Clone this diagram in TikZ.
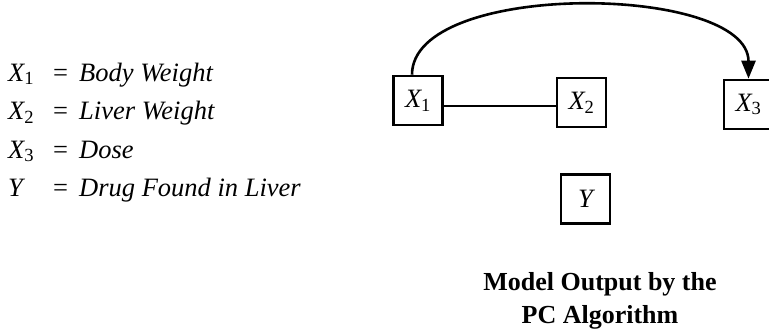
\documentclass[tikz,border=0pt]{standalone}
\usepackage{fontspec}
\setmainfont{Liberation Serif}
\usetikzlibrary{arrows.meta,positioning,calc}
\newcommand{\vname}[2]{#1\textsubscript{\upshape #2}}
\tikzset{
  var/.style={draw,line width=2.6pt,minimum size=49pt,inner sep=0pt,
              font=\fontsize{26.5}{32}\selectfont\itshape},
  lgd/.style={anchor=base west,inner sep=0pt,
              font=\fontsize{26.5}{32}\selectfont\itshape},
  lnk/.style={line width=2.6pt},
  arr/.style={lnk,-{Triangle[length=18pt,width=14pt]}},
}

\begin{document}
\begin{tikzpicture}[x=1pt,y=-1pt]
    \useasboundingbox (0,0) rectangle (769,332);
    % --- legend (left) ---
    \foreach \s/\d [count=\k] in {{\vname{X}{1}}/Body Weight,{\vname{X}{2}}/Liver Weight,
                                  {\vname{X}{3}}/Dose,Y/Drug Found in Liver} {
      \node[lgd] (sym\k) at (8,{81+38.5*(\k-1)}) {\s};
      \node[lgd] (eq\k) at (53,{81+38.5*(\k-1)}) {\upshape =};
      \node[lgd] (def\k) at (79,{81+38.5*(\k-1)}) {\d};
    }
    % --- PC graph (right) ---
    \node[var] (x1) at (418,100.5) {\vname{X}{1}};
    \node[var] (x2) at (581.5,102.5) {\vname{X}{2}};
    \node[var] (x3) at (748.5,104.5) {\vname{X}{3}};
    \node[var] (y) at (585.5,199) {Y};
    \draw[lnk] ([yshift=-5.5pt]x1.east) -- ([yshift=-3.5pt]x2.west);
    \draw[arr] ([xshift=-6pt]x1.north) .. controls +(0,-95) and +(0,-95) .. (x3.north);
    % --- caption ---
    \node[font=\fontsize{26}{33}\selectfont\bfseries,align=center] (cap) at (600,300.5)
      {Model Output by the\\PC Algorithm};
\end{tikzpicture}
\end{document}
